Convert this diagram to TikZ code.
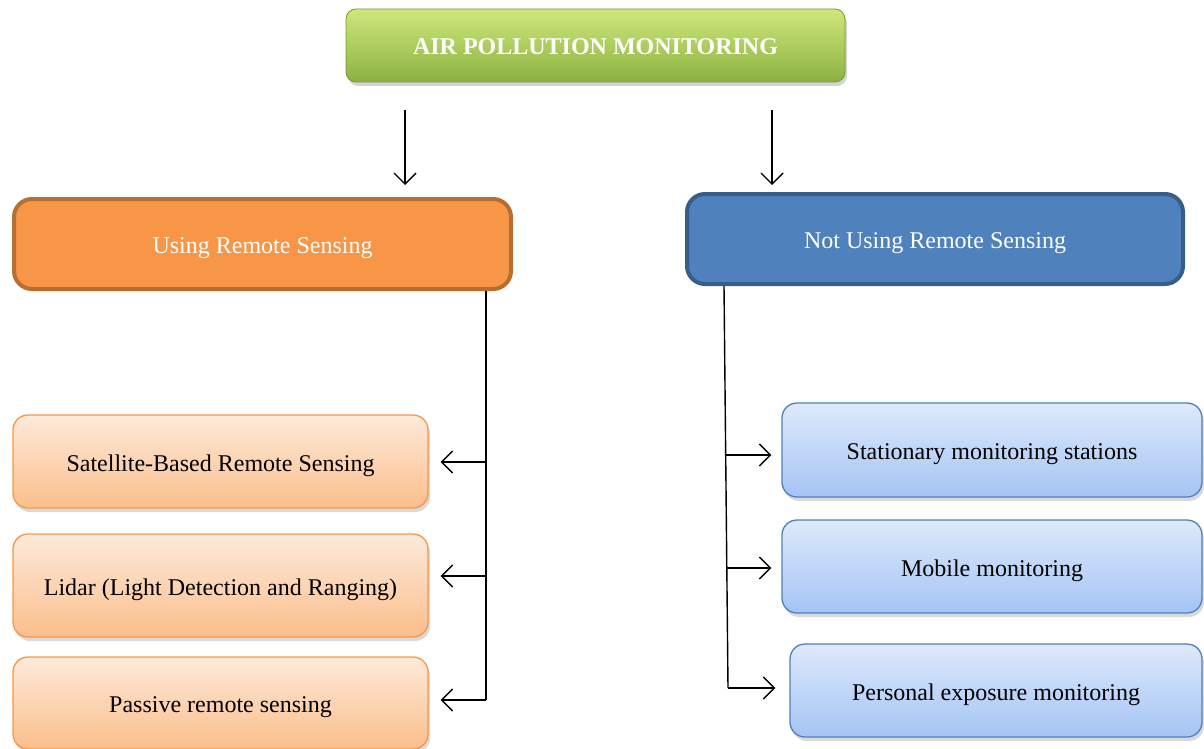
\documentclass[tikz,border=0pt]{standalone}
\usepackage{fontspec}
\setmainfont{Liberation Serif}
\usetikzlibrary{arrows.meta,shadows}
\definecolor{gtop}{RGB}{206,232,122}
\definecolor{gbot}{RGB}{140,178,66}
\definecolor{orfill}{RGB}{247,150,70}
\definecolor{ordraw}{RGB}{183,110,50}
\definecolor{blfill}{RGB}{79,129,189}
\definecolor{bldraw}{RGB}{56,93,138}
\definecolor{ptop}{RGB}{253,234,218}
\definecolor{pbot}{RGB}{251,190,140}
\definecolor{btop}{RGB}{222,233,251}
\definecolor{bbot}{RGB}{164,196,245}
\tikzset{
  lowtext/.style={text height=19pt, text depth=0pt},
  titlebox/.style={rounded corners=10pt, top color=gtop, bottom color=gbot, draw=gbot!85!black, line width=0.8pt,
     text=white, font=\fontsize{24}{28}\selectfont\bfseries, text height=18pt, text depth=0pt,
     drop shadow={opacity=0.35, shadow xshift=2pt, shadow yshift=-4pt}},
  orhead/.style={lowtext, rounded corners=18pt, fill=orfill, draw=ordraw, line width=4pt, text=white},
  blhead/.style={lowtext, rounded corners=18pt, fill=blfill, draw=bldraw, line width=4pt, text=white},
  peachbox/.style={lowtext, rounded corners=15pt, top color=ptop, bottom color=pbot, draw=orfill, line width=1.3pt,
     drop shadow={opacity=0.3, shadow xshift=2pt, shadow yshift=-4pt}},
  bluebox/.style={lowtext, rounded corners=15pt, top color=btop, bottom color=bbot, draw=blfill, line width=1.3pt,
     drop shadow={opacity=0.3, shadow xshift=2pt, shadow yshift=-4pt}},
  conn/.style={line width=1.4pt, black},
  arr/.style={conn, -{Straight Barb[length=11pt, width=22pt, line width=1.4pt]}},
}
\begin{document}
\begin{tikzpicture}[x=1pt, y=-1pt, font=\fontsize{24}{28}\selectfont]
\useasboundingbox (0,0) rectangle (1204,749);

\node[titlebox, minimum width=499pt, minimum height=73pt] (title) at (595.5,45.5) {AIR POLLUTION MONITORING};

\node[orhead, minimum width=497pt, minimum height=90pt] (using) at (262.5,244) {Using Remote Sensing};
\node[blhead, minimum width=496pt, minimum height=90pt] (notusing) at (935,239) {Not Using Remote Sensing};

\node[peachbox, minimum width=415pt, minimum height=93pt] (sat) at (220.5,461.5) {Satellite-Based Remote Sensing};
\node[peachbox, minimum width=415pt, minimum height=103pt] (lidar) at (220.5,585.5) {Lidar (Light Detection and Ranging)};
\node[peachbox, minimum width=415pt, minimum height=92pt] (passive) at (220.5,703) {Passive remote sensing};

\node[bluebox, minimum width=420pt, minimum height=94pt] (stat) at (992,450) {Stationary monitoring stations};
\node[bluebox, minimum width=420pt, minimum height=93pt] (mobile) at (992,566.5) {Mobile monitoring};
\node[bluebox, minimum width=412pt, minimum height=93pt] (personal) at (996,690.5) {Personal exposure monitoring};

% arrows from title
\coordinate (t1) at (405,110);
\coordinate (t2) at (772,110);
\draw[arr] (t1) -- (405,185);
\draw[arr] (t2) -- (772,185);

% left trunk
\coordinate (lt) at (486,291);
\coordinate (l1) at (486,462);
\coordinate (l2) at (486,576);
\coordinate (l3) at (486,700);
\draw[conn] (lt) -- (l3);
\draw[arr] (l1) -- ([xshift=12pt]sat.east |- l1);
\draw[arr] (l2) -- ([xshift=12pt]lidar.east |- l2);
\draw[arr] (l3) -- ([xshift=12pt]passive.east |- l3);

% right trunk
\coordinate (rt) at (724,286);
\coordinate (r1) at (725.2,455);
\coordinate (r2) at (726.3,568);
\coordinate (r3) at (728,688);
\draw[conn] (rt) -- (r3);
\draw[arr] (r1) -- ([xshift=-10pt]stat.west |- r1);
\draw[arr] (r2) -- ([xshift=-10pt]mobile.west |- r2);
\draw[arr] (r3) -- ([xshift=-14pt]personal.west |- r3);
\end{tikzpicture}
\end{document}
